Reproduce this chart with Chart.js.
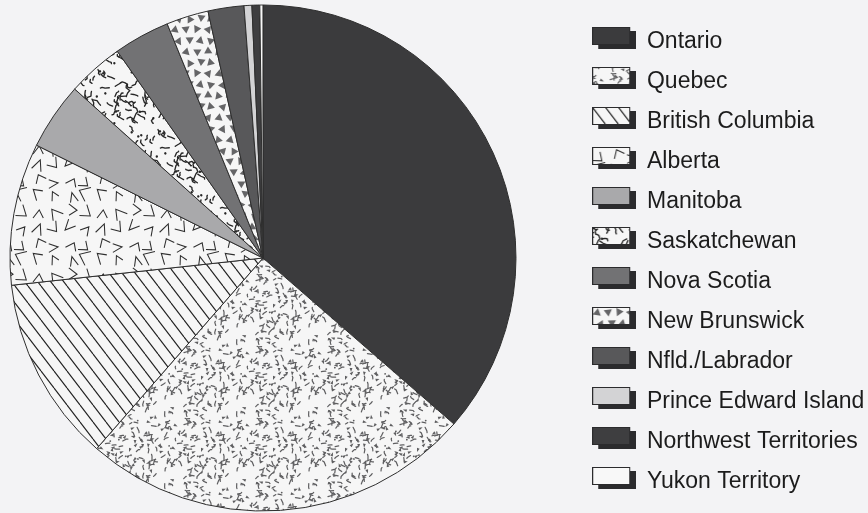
<!DOCTYPE html>
<html><head><meta charset="utf-8">
<script src="https://cdn.jsdelivr.net/npm/chart.js@4.4.0/dist/chart.umd.min.js"></script>
<style>
html,body{margin:0;padding:0;background:#f3f3f5;overflow:hidden;width:868px;height:513px;position:relative;}
#wrap{position:absolute;left:-49px;top:-20px;width:930px;height:556px;}
</style></head><body>
<div id="wrap"><canvas id="c"></canvas></div>
<script>
// ---- data ----
const categories = ['Ontario','Quebec','British Columbia','Alberta','Manitoba','Saskatchewan','Nova Scotia','New Brunswick','Nfld./Labrador','Prince Edward Island','Northwest Territories','Yukon Territory'];
const values = [36.5, 25.1, 11.9, 9.1, 4.3, 3.6, 3.6, 2.7, 2.3, 0.5, 0.5, 0.2];
// ---- styles ----
const fillKinds = ['solid:#3b3b3d','speckleLight','lines','chevrons','solid:#a9a9ab','speckleDark','solid:#727274','triangles','solid:#58585a','solid:#d3d3d5','solid:#3e3e40','solid:#f8f8f8'];
const PAPER = '#f6f6f6';

function rng(seed){ let s=seed>>>0; return ()=>{ s=(Math.imul(s,1664525)+1013904223)>>>0; return s/4294967296; }; }
function makeTile(w,h,draw){ const c=document.createElement('canvas'); c.width=w; c.height=h; const g=c.getContext('2d'); g.fillStyle=PAPER; g.fillRect(0,0,w,h); draw(g,w,h); return c; }
function wrapDraw(g,w,h,x,y,fn){ for(const dx of [-w,0,w]) for(const dy of [-h,0,h]){ g.save(); g.translate(x+dx,y+dy); fn(g); g.restore(); } }

const tiles = {
  speckleLight: makeTile(72,72,(g,w,h)=>{
    const r=rng(11); g.fillStyle='#5e5e60'; g.strokeStyle='#5e5e60'; g.lineCap='round';
    for(let i=0;i<150;i++){
      const x=r()*w,y=r()*h,a=r()*Math.PI*2,t=r(),L=2.5+r()*3,b=(r()-0.5)*1.6;
      wrapDraw(g,w,h,x,y,(c)=>{ c.rotate(a);
        if(t<0.55){ c.lineWidth=1.2; c.beginPath(); c.moveTo(-L/2,0); c.lineTo(L/4,0); c.lineTo(L/4+Math.cos(b)*L/3,Math.sin(b)*L/3); c.stroke(); }
        else if(t<0.9){ c.beginPath(); c.moveTo(-1.8,-1.3); c.lineTo(2.2,0); c.lineTo(-1.8,1.5); c.closePath(); c.fill(); }
        else { c.beginPath(); c.arc(0,0,0.9,0,Math.PI*2); c.fill(); }
      });
    }
  }),
  speckleDark: makeTile(60,60,(g,w,h)=>{
    const r=rng(29); g.strokeStyle='#262626'; g.fillStyle='#262626'; g.lineWidth=1.35; g.lineCap='round'; g.lineJoin='round';
    for(let i=0;i<62;i++){
      const x=r()*w,y=r()*h,a=r()*Math.PI*2,b=(r()-0.5)*2.4,c2=(r()-0.5)*2.4,L1=2+r()*2.2,L2=1.8+r()*2.2,L3=r()*2.2, dot=r()<0.15;
      wrapDraw(g,w,h,x,y,(c)=>{ c.rotate(a);
        if(dot){ c.beginPath(); c.arc(0,0,1.2,0,Math.PI*2); c.fill(); return; }
        const px=Math.cos(b)*L2, py=Math.sin(b)*L2;
        c.beginPath(); c.moveTo(-L1,0); c.lineTo(0,0); c.lineTo(px,py); c.lineTo(px+Math.cos(b+c2)*L3, py+Math.sin(b+c2)*L3); c.stroke();
      });
    }
  }),
  lines: makeTile(13,17,(g,w,h)=>{
    g.strokeStyle='#1f1f1f'; g.lineWidth=1.15;
    for(const dx of [-w,0,w]){ g.beginPath(); g.moveTo(dx,0); g.lineTo(dx+w,h); g.stroke(); }
  }),
  chevrons: makeTile(64,64,(g,w,h)=>{
    const r=rng(7); g.strokeStyle='#2e2e2e'; g.lineWidth=1.05;
    for(let i=0;i<4;i++) for(let j=0;j<4;j++){
      const x=i*16+8+(r()-0.5)*7, y=j*16+8+(r()-0.5)*7, a=r()*Math.PI*2, op=0.38+r()*0.3, L=9+r()*3.5, L2=L*(0.8+r()*0.3);
      wrapDraw(g,w,h,x,y,(c)=>{ c.rotate(a); c.beginPath();
        c.moveTo(Math.cos(op)*L-L/2,Math.sin(op)*L); c.lineTo(-L/2,0); c.lineTo(Math.cos(-op)*L2-L/2,Math.sin(-op)*L2); c.stroke(); });
    }
  }),
  triangles: makeTile(44,44,(g,w,h)=>{
    const r=rng(3); g.fillStyle='#656567';
    for(let i=0;i<4;i++) for(let j=0;j<4;j++){
      const x=i*11+5.5+(j%2)*3+(r()-0.5)*2, y=j*11+5.5+(r()-0.5)*2, a=Math.floor(r()*4)*Math.PI/2+(r()-0.5)*0.6, s=4.3;
      wrapDraw(g,w,h,x,y,(c)=>{ c.rotate(a); c.beginPath(); c.moveTo(s,0); c.lineTo(-s*0.6,-s*0.95); c.lineTo(-s*0.6,s*0.95); c.closePath(); c.fill(); });
    }
  })
};

const canvas = document.getElementById('c');
const mainCtx = canvas.getContext('2d');
function fillFor(kind, ctx){
  if(kind.startsWith('solid:')) return kind.slice(6);
  return ctx.createPattern(tiles[kind],'repeat');
}
const bg = fillKinds.map(k=>fillFor(k, mainCtx));

// legend swatches (front box + offset shadow)
const swatches = fillKinds.map(k=>{
  const c=document.createElement('canvas'); c.width=44; c.height=30;
  const g=c.getContext('2d');
  g.fillStyle='#2b2b2d'; g.fillRect(6,4,38,18);
  g.fillStyle=fillFor(k,g); g.fillRect(0.5,0.5,37,17);
  g.strokeStyle='#2b2b2d'; g.lineWidth=1; g.strokeRect(0.5,0.5,37,17);
  return c;
});

const LEG_PAD = 17;
const chart = new Chart(canvas, {
  type: 'pie',
  data: { labels: categories, datasets: [{ data: values, backgroundColor: bg, borderColor: '#2e2e2e', borderWidth: 1, hoverOffset: 0 }] },
  options: {
    responsive: true, maintainAspectRatio: false, animation: false, events: [],
    radius: 253,
    layout: { padding: 0 },
    plugins: {
      tooltip: { enabled: false },
      legend: {
        position: 'right', align: 'center',
        title: { display: true, text: ' ', font: { size: 1 }, padding: { top: 3.4, bottom: 3.4 } },
        labels: {
          usePointStyle: true, pointStyleWidth: 42.5, padding: LEG_PAD,
          font: { family: "'Liberation Sans', Arial, Helvetica, sans-serif", size: 23 },
          color: '#1c1c1c',
          generateLabels: () => categories.map((t,i)=>({ text: t, pointStyle: swatches[i], fillStyle: 'rgba(0,0,0,0)', strokeStyle: 'rgba(0,0,0,0)', lineWidth: 0, fontColor: '#1c1c1c', hidden: false, index: i }))
        }
      }
    }
  }
});

// place the canvas so the pie centre and legend column land where the reference has them
const Lw = chart.legend.width;
const W = 2*(330 - LEG_PAD) + Lw;
const wrap = document.getElementById('wrap');
wrap.style.width = W + 'px';
wrap.style.left = (263 - (W - Lw)/2) + 'px';
chart.resize();
</script>
</body></html>
